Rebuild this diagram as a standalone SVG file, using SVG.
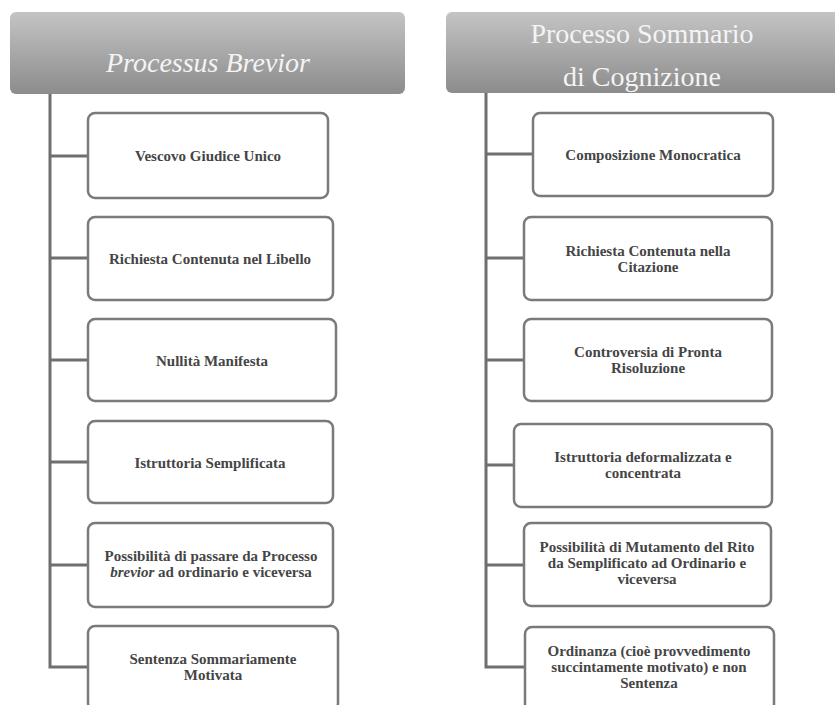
<svg xmlns="http://www.w3.org/2000/svg" width="835" height="705" viewBox="0 0 835 705">
<defs>
<linearGradient id="hdr" x1="0" y1="0" x2="0" y2="1">
<stop offset="0" stop-color="#c4c4c4"/>
<stop offset="1" stop-color="#8c8c8c"/>
</linearGradient>
</defs>
<style>
.hdr{fill:url(#hdr);}
.htxt{font-family:"Liberation Serif","DejaVu Serif",serif;font-size:28px;fill:#f4f4f4;text-anchor:middle;}
.box{fill:#ffffff;stroke:#7a7a7a;stroke-width:2.5;}
.txt{font-family:"Liberation Serif","DejaVu Serif",serif;font-size:15px;font-weight:bold;fill:#454545;text-anchor:middle;}
.conn{fill:none;stroke:#6f6f6f;stroke-width:3;}
</style>
<rect width="835" height="705" fill="#ffffff"/>
<g id="connectors">
<path class="conn" d="M50 94 V667 H88 M50 156 H88 M50 258 H88 M50 360 H88 M50 462 H88 M50 565 H88"/>
<path class="conn" d="M486 93 V667 H525 M486 154 H533 M486 258 H524 M486 360 H524 M486 465 H514 M486 565 H524"/>
</g>
<g id="h-left">
<rect class="hdr" x="10" y="12" width="395" height="82" rx="6"/>
<text class="htxt" x="208" y="72" font-style="italic" font-size="27">Processus Brevior</text>
</g>
<g id="h-right">
<rect class="hdr" x="446" y="12" width="400" height="81" rx="6"/>
<text class="htxt" x="642" y="43">Processo Sommario</text>
<text class="htxt" x="642" y="86">di Cognizione</text>
</g>
<g id="l1"><rect class="box" x="88" y="113" width="240" height="85" rx="7"/><text class="txt" x="208" y="161">Vescovo Giudice Unico</text></g>
<g id="l2"><rect class="box" x="88" y="217" width="245" height="83" rx="7"/><text class="txt" x="210" y="264">Richiesta Contenuta nel Libello</text></g>
<g id="l3"><rect class="box" x="88" y="319" width="248" height="82" rx="7"/><text class="txt" x="212" y="366">Nullità Manifesta</text></g>
<g id="l4"><rect class="box" x="88" y="421" width="245" height="82" rx="7"/><text class="txt" x="210" y="468">Istruttoria Semplificata</text></g>
<g id="l5"><rect class="box" x="88" y="523" width="245" height="84" rx="7"/><text class="txt" x="211" y="561">Possibilità di passare da Processo</text><text class="txt" x="211" y="577"><tspan font-style="italic">brevior</tspan> ad ordinario e viceversa</text></g>
<g id="l6"><rect class="box" x="88" y="626" width="250" height="84" rx="7"/><text class="txt" x="213" y="664">Sentenza Sommariamente</text><text class="txt" x="213" y="680">Motivata</text></g>
<g id="r1"><rect class="box" x="533" y="113" width="240" height="83" rx="7"/><text class="txt" x="653" y="160">Composizione Monocratica</text></g>
<g id="r2"><rect class="box" x="524" y="217" width="248" height="83" rx="7"/><text class="txt" x="648" y="256">Richiesta Contenuta nella</text><text class="txt" x="648" y="272">Citazione</text></g>
<g id="r3"><rect class="box" x="524" y="319" width="248" height="82" rx="7"/><text class="txt" x="648" y="357">Controversia di Pronta</text><text class="txt" x="648" y="373">Risoluzione</text></g>
<g id="r4"><rect class="box" x="514" y="424" width="258" height="83" rx="7"/><text class="txt" x="643" y="462">Istruttoria deformalizzata e</text><text class="txt" x="643" y="478">concentrata</text></g>
<g id="r5"><rect class="box" x="524" y="523" width="247" height="83" rx="7"/><text class="txt" x="647" y="552">Possibilità di Mutamento del Rito</text><text class="txt" x="647" y="568">da Semplificato ad Ordinario e</text><text class="txt" x="647" y="584">viceversa</text></g>
<g id="r6"><rect class="box" x="525" y="627" width="249" height="84" rx="7"/><text class="txt" x="649" y="656">Ordinanza (cioè provvedimento</text><text class="txt" x="649" y="672">succintamente motivato) e non</text><text class="txt" x="649" y="688">Sentenza</text></g>
</svg>
